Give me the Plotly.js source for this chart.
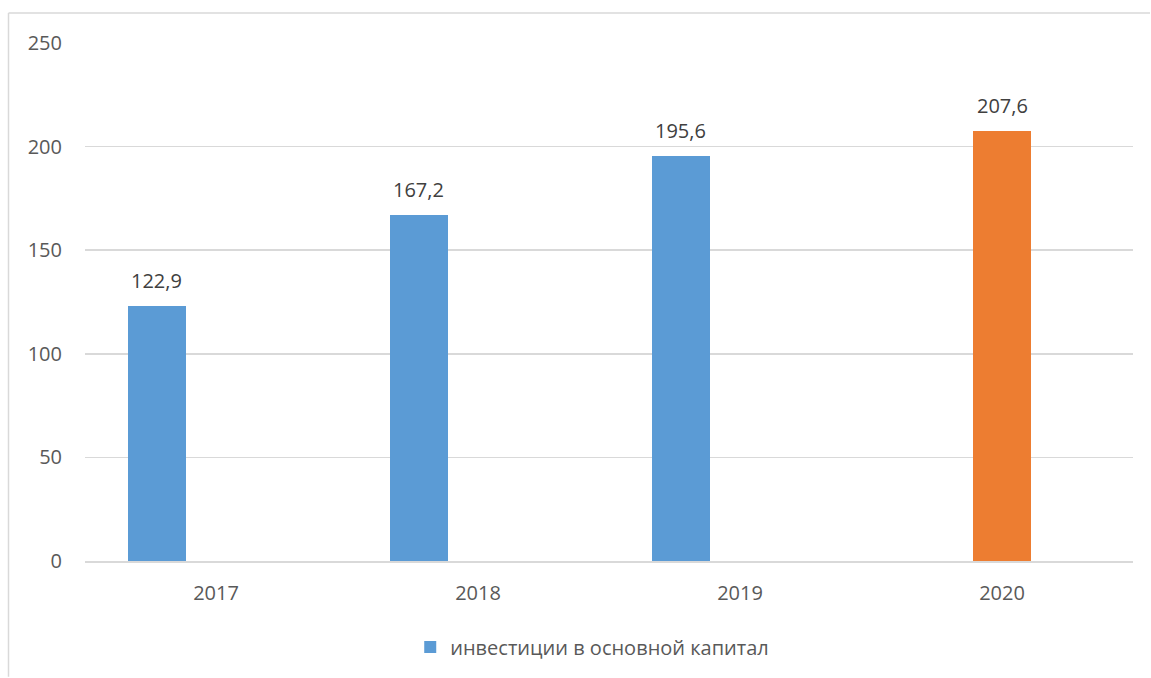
<!DOCTYPE html>
<html>
<head>
<meta charset="utf-8">
<script src="https://cdn.plot.ly/plotly-3.0.1.min.js"></script>
<style>
html,body{margin:0;padding:0;background:#fff;}
#chart{width:1151px;height:678px;}
</style>
</head>
<body>
<div id="chart"></div>
<script>
const years = ['2017', '2018', '2019', '2020'];
const blueYears = ['2017', '2018', '2019'];
const blueValues = [122.9, 167.2, 195.6];
const orangeYears = ['2020'];
const orangeValues = [207.6];
const seriesName = 'инвестиции в основной капитал';
const yTicks = [0, 50, 100, 150, 200, 250];

const fmt = v => v.toFixed(1).replace('.', ',');
const font = 'Open Sans, Liberation Sans, sans-serif';
const barW = 0.221;
const blueOff = -0.336;
const orangeOff = -0.1105;

const traces = [
  {
    type: 'bar', name: seriesName, x: blueYears, y: blueValues,
    marker: {color: '#5B9BD5'}, width: barW, offset: blueOff, hoverinfo: 'x+y'
  },
  {
    type: 'bar', name: seriesName, x: orangeYears, y: orangeValues,
    marker: {color: '#ED7D31'}, width: barW, offset: orangeOff,
    showlegend: false, hoverinfo: 'x+y'
  }
];

const annotations = [];
blueYears.forEach((yr, i) => annotations.push({
  x: years.indexOf(yr) + blueOff + barW / 2, y: blueValues[i], xref: 'x', yref: 'y',
  text: fmt(blueValues[i]), showarrow: false, yanchor: 'bottom', yshift: 10,
  font: {family: font, size: 20, color: '#404040'}
}));
orangeYears.forEach((yr, i) => annotations.push({
  x: years.indexOf(yr) + orangeOff + barW / 2, y: orangeValues[i], xref: 'x', yref: 'y',
  text: fmt(orangeValues[i]), showarrow: false, yanchor: 'bottom', yshift: 10,
  font: {family: font, size: 20, color: '#404040'}
}));

const layout = {
  width: 1151, height: 678,
  margin: {l: 85, r: 18, t: 43, b: 116},
  paper_bgcolor: '#fff', plot_bgcolor: '#fff',
  font: {family: font, size: 20, color: '#595959'},
  showlegend: true,
  legend: {orientation: 'h', x: 0.484, xanchor: 'center', y: -0.164, yanchor: 'middle',
           font: {family: font, size: 20, color: '#595959'}},
  xaxis: {type: 'category', categoryorder: 'array', categoryarray: years,
          range: [-0.5, 3.5], showgrid: false, showline: true, linecolor: '#d9d9d9', linewidth: 1.5,
          ticks: '', ticklabelstandoff: 13, zeroline: false, fixedrange: true},
  yaxis: {range: [0, 250], tickvals: yTicks, ticktext: yTicks.map(String),
          showgrid: true, gridcolor: '#d9d9d9', gridwidth: 1.5, zeroline: false,
          showline: false, ticks: '', ticklabelstandoff: 22, fixedrange: true},
  bargap: 0,
  annotations: annotations,
  shapes: [
    {type: 'line', xref: 'paper', yref: 'paper',
     x0: (8.5 - 85) / 1048, x1: (8.5 - 85) / 1048,
     y0: (562 - 678) / 519, y1: (562 - 13) / 519,
     line: {color: '#d9d9d9', width: 1.5}, layer: 'below'},
    {type: 'line', xref: 'paper', yref: 'paper',
     x0: (8.5 - 85) / 1048, x1: (1150 - 85) / 1048,
     y0: (562 - 13) / 519, y1: (562 - 13) / 519,
     line: {color: '#d9d9d9', width: 1.5}, layer: 'below'}
  ]
};

Plotly.newPlot('chart', traces, layout, {displayModeBar: false, staticPlot: true});
</script>
</body>
</html>
